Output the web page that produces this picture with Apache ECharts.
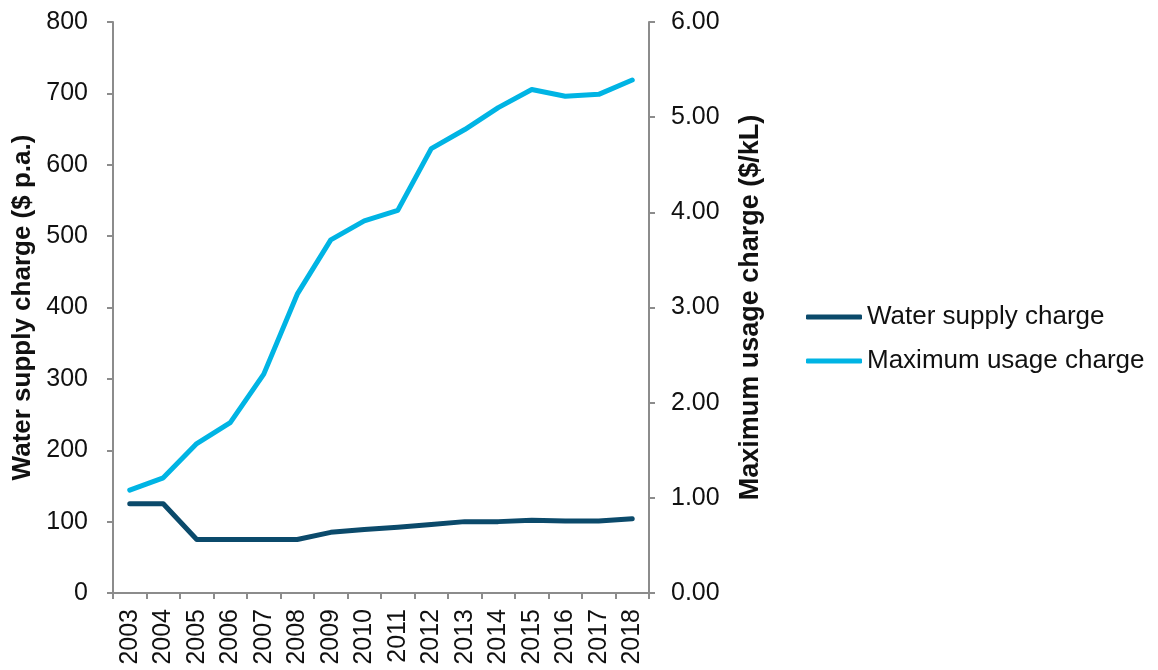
<!DOCTYPE html>
<html>
<head>
<meta charset="utf-8">
<script src="https://cdn.jsdelivr.net/npm/echarts@6/dist/echarts.min.js"></script>
<style>
  html, body { margin: 0; padding: 0; background: #fff; }
  #chart { width: 1158px; height: 670px; }
</style>
</head>
<body>
<div id="chart"></div>
<script>
// categories + series
const years = ['2003', '2004', '2005', '2006', '2007', '2008', '2009', '2010',
  '2011', '2012', '2013', '2014', '2015', '2016', '2017', '2018'];
const supplyCharge = [125, 125, 75, 75, 75, 75, 85, 89, 92, 96, 100, 100, 102, 101, 101, 104];
const usageCharge = [1.08, 1.21, 1.57, 1.79, 2.30, 3.14, 3.71, 3.91, 4.02, 4.67, 4.87, 5.10, 5.29, 5.22, 5.24, 5.39];

const FONT = 'Liberation Sans, Arial, sans-serif';
const axisGrey = '#8c8c8c';

const chart = echarts.init(document.getElementById('chart'));

const option = {
  animation: false,
  backgroundColor: '#ffffff',
  textStyle: { fontFamily: FONT },
  grid: { left: 113, right: 509, top: 22, bottom: 77 },
  legend: {
    orient: 'vertical',
    left: 806,
    top: 304,
    padding: 0,
    itemWidth: 56,
    itemHeight: 5,
    itemGap: 18,
    icon: 'roundRect',
    textStyle: { fontFamily: FONT, fontSize: 26, color: '#111' },
    data: ['Water supply charge', 'Maximum usage charge']
  },
  xAxis: {
    type: 'category',
    data: years,
    boundaryGap: true,
    axisLine: { lineStyle: { color: axisGrey, width: 2 } },
    axisTick: { show: true, length: 6, lineStyle: { color: axisGrey, width: 2 } },
    axisLabel: { rotate: 90, fontSize: 25, color: '#111', margin: 16, fontFamily: FONT, interval: 0 }
  },
  yAxis: [
    {
      type: 'value',
      min: 0, max: 800, interval: 100,
      name: 'Water supply charge ($ p.a.)',
      nameLocation: 'middle',
      nameRotate: 90,
      nameGap: 77,
      nameTextStyle: { fontSize: 26, fontWeight: 'bold', color: '#111', fontFamily: FONT },
      axisLine: { show: true, lineStyle: { color: axisGrey, width: 2 } },
      axisTick: { show: true, length: 6, lineStyle: { color: axisGrey, width: 2 } },
      splitLine: { show: false },
      axisLabel: { fontSize: 25, color: '#111', margin: 25, fontFamily: FONT }
    },
    {
      type: 'value',
      min: 0, max: 6, interval: 1,
      position: 'right',
      name: 'Maximum usage charge ($/kL)',
      nameLocation: 'middle',
      nameRotate: 90,
      nameGap: 88,
      nameTextStyle: { fontSize: 27, fontWeight: 'bold', color: '#111', fontFamily: FONT },
      axisLine: { show: true, lineStyle: { color: axisGrey, width: 2 } },
      axisTick: { show: true, length: 6, lineStyle: { color: axisGrey, width: 2 } },
      splitLine: { show: false },
      axisLabel: {
        fontSize: 25, color: '#111', margin: 22, fontFamily: FONT,
        formatter: v => v.toFixed(2)
      }
    }
  ],
  series: [
    {
      name: 'Water supply charge',
      type: 'line',
      yAxisIndex: 0,
      data: supplyCharge,
      symbol: 'none',
      color: '#0b4a6b',
      lineStyle: { width: 5, cap: 'round', join: 'round' }
    },
    {
      name: 'Maximum usage charge',
      type: 'line',
      yAxisIndex: 1,
      data: usageCharge,
      symbol: 'none',
      color: '#00b4e4',
      lineStyle: { width: 5, cap: 'round', join: 'round' }
    }
  ]
};

chart.setOption(option);
</script>
</body>
</html>
